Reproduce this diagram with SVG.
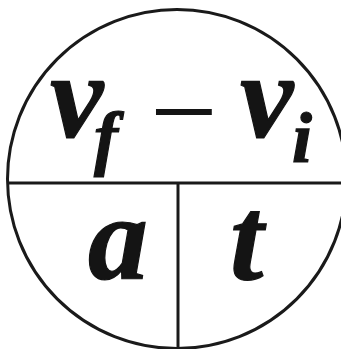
<svg xmlns="http://www.w3.org/2000/svg" width="341" height="349" viewBox="0 0 341 349">
<style>
.ln{fill:none;stroke:#1a1a1a;stroke-width:3}
.bi{font-weight:bold;font-style:italic;stroke:#141414;stroke-width:1.2}
.big{font-size:120px}
.sub{font-size:72px}
</style>
<rect width="341" height="349" fill="#ffffff"/>
<g id="connectors">
<circle class="ln" cx="177" cy="179" r="169.5"/>
<line class="ln" x1="8" y1="183" x2="341" y2="183"/>
<line class="ln" x1="178" y1="183" x2="178" y2="349"/>
</g>
<g font-family="Liberation Serif, serif" fill="#141414">
<g id="numerator">
<text class="big"><tspan class="bi" x="50" y="137">v</tspan><tspan class="sub bi" x="94" y="162">f</tspan></text>
<text class="big" x="150" y="152">−</text>
<text class="big"><tspan class="bi" x="240" y="137">v</tspan><tspan class="sub bi" x="292" y="162">i</tspan></text>
</g>
<g id="a-cell">
<text class="big bi" x="88" y="279">a</text>
</g>
<g id="t-cell">
<text class="big bi" x="230" y="279">t</text>
</g>
</g>
</svg>
